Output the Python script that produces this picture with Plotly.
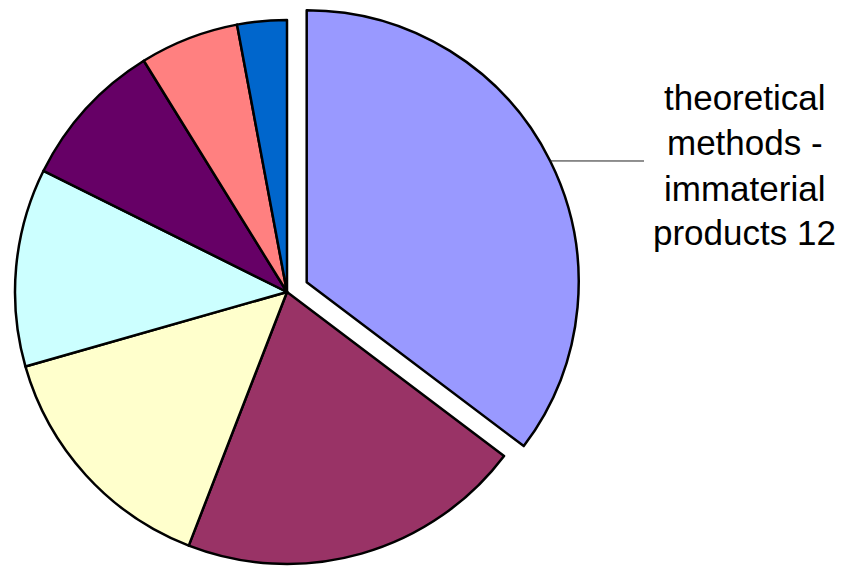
import math
import plotly.graph_objects as go

# ---- data ----
categories = [
    "theoretical methods - immaterial products",
    "category 2",
    "category 3",
    "category 4",
    "category 5",
    "category 6",
    "category 7",
]
values = [12, 7, 5, 4, 3, 2, 1]
colors = ["#9999FF", "#993366", "#FFFFCC", "#CCFFFF", "#660066", "#FF8080", "#0066CC"]
label_lines = ["theoretical", "methods -", "immaterial", "products 12"]

# ---- layout constants (pixels, in screen coordinates) ----
W, H = 859, 568
OFF = 8  # page body margin
cx, cy, r = 287 - OFF, 292 - OFF, 272
pull_px = 22
total = sum(values)
mid_angle = math.radians(360 * values[0] / total / 2)
pcx = cx + pull_px * math.sin(mid_angle)
pcy = cy - pull_px * math.cos(mid_angle)


def domain(x0, y0, rad):
    return dict(x=[(x0 - rad) / W, (x0 + rad) / W],
                y=[1 - (y0 + rad) / H, 1 - (y0 - rad) / H])


clear = "rgba(0,0,0,0)"
LW = 2.5

fig = go.Figure()
# main pie (first slice hidden, redrawn exploded below)
fig.add_trace(go.Pie(
    labels=categories, values=values, sort=False, direction="clockwise", rotation=0,
    marker=dict(colors=[clear] + colors[1:],
                line=dict(color="black", width=[0] + [LW] * (len(values) - 1))),
    textinfo="none", hoverinfo="label+value", showlegend=False,
    domain=domain(cx, cy, r),
))
# exploded first slice
fig.add_trace(go.Pie(
    labels=[categories[0], "rest"], values=[values[0], sum(values[1:])],
    sort=False, direction="clockwise", rotation=0,
    marker=dict(colors=[colors[0], clear], line=dict(color="black", width=[LW, 0])),
    textinfo="none", hoverinfo="skip", showlegend=False,
    domain=domain(pcx, pcy, r),
))

# leader line
sx = pcx + r * math.sin(mid_angle)
sy = pcy - r * math.cos(mid_angle)
ex, ey = 644 - OFF, 161 - OFF
fig.add_shape(type="line", xref="paper", yref="paper",
              x0=sx / W, y0=1 - sy / H, x1=ex / W, y1=1 - ey / H,
              line=dict(color="#222222", width=1))

# label text
text_cx = 744.5 - OFF
centers = [97 - OFF, 142.5 - OFF, 188 - OFF, 233 - OFF]
for line, ty in zip(label_lines, centers):
    fig.add_annotation(text=line, x=text_cx / W, y=1 - ty / H, xref="paper", yref="paper",
                       xanchor="center", yanchor="middle", showarrow=False,
                       font=dict(family="Liberation Sans, Arial, sans-serif", size=35, color="black"))

fig.update_layout(width=W, height=H, margin=dict(l=0, r=0, t=0, b=0),
                  paper_bgcolor="white", plot_bgcolor="white")
fig.write_html("out.html")
